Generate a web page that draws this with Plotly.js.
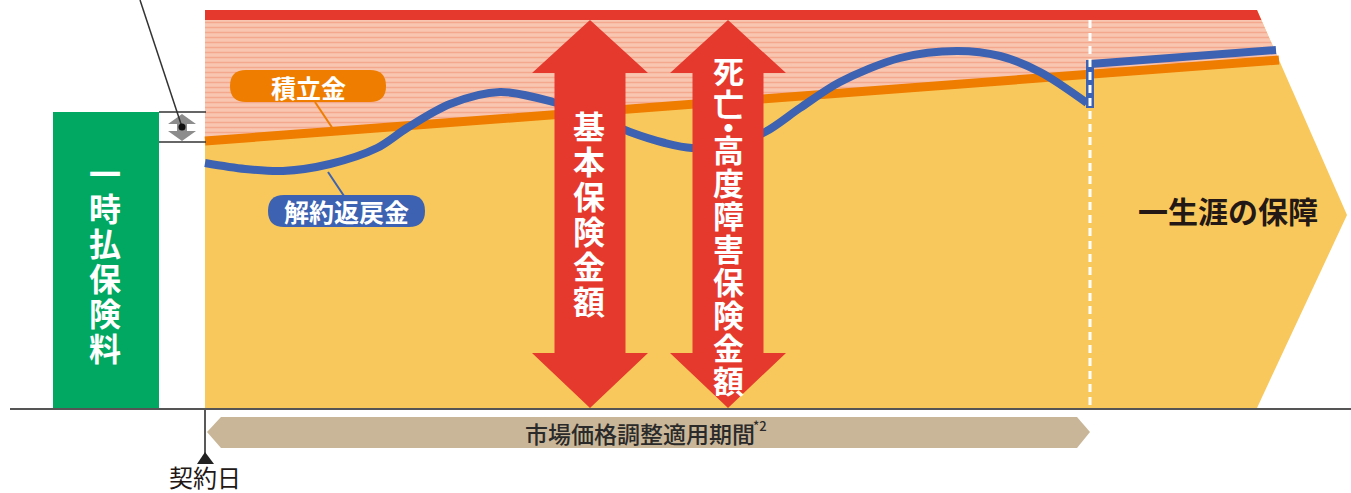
<!DOCTYPE html>
<html>
<head>
<meta charset="utf-8">
<script src="https://cdn.plot.ly/plotly-3.0.1.min.js"></script>
<style>html,body{margin:0;padding:0;background:#fff;}#chart{width:1351px;height:493px;}</style>
</head>
<body>
<div id="chart"></div>
<script>
// ---- data (diagram units: x = time axis, y = amount, drawn top-down) ----
const surrenderX = [205,245,283,330,377,407,450,500,553,590,630,665,692,730,765,800,840,900,957,1000,1040,1087];
const surrenderY = [163,169,171,164,148,128,104,92,102,115,132,143,148,145,132,108,82,58,51,56,72,103];
const jumpX = [1090,1090];
const jumpY = [60,108];
const afterX = [1090,1276];
const afterY = [64,50];
const reserveX = [205,1279];
const reserveY = [141,60];
const frameX = [205,1257,1347,1257,205];   // lifelong coverage arrow
const frameY = [10,10,215,408,408];
const baseY = 408;
const coverTop = 20;
const arrowCenters = [590,728];
const arrowLabels = ['基本保険金額','死亡・高度障害保険金額'];
const premiumLabel = '一時払保険料';
const reserveLabel = '積立金';
const surrenderLabel = '解約返戻金';
const lifeLabel = '一生涯の保障';
const periodLabel = '市場価格調整適用期間';
const periodNote = '*2';
const contractLabel = '契約日';
const periodStart = 207, periodEnd = 1090;

const CJK = '"Noto Sans CJK JP", "Noto Sans", sans-serif';
const C = {yellow:'#f9c85c', pinkBg:'#f9c6b1', pinkFg:'#f4a98f', red:'#e5392e', orange:'#ee7d00',
           blue:'#3c62b1', green:'#00a862', tan:'#c9b698', gray:'#8c8c8c'};

function poly(x, y, color, extra) {
  return Object.assign({type:'scatter', mode:'lines', x:x, y:y, fill:'toself', fillcolor:color,
    line:{width:0, color:color}, hoverinfo:'skip', showlegend:false}, extra||{});
}
function line(x, y, color, w, extra) {
  return Object.assign({type:'scatter', mode:'lines', x:x, y:y, line:{color:color, width:w},
    hoverinfo:'skip', showlegend:false}, extra||{});
}
function arrowPoly(cx) {
  const hh = 58, sh = 35.5, t = coverTop, hb = 73, bb = 353, b = baseY;
  return {x:[cx, cx+hh, cx+sh, cx+sh, cx+hh, cx, cx-hh, cx-sh, cx-sh, cx-hh, cx],
          y:[t, hb, hb, bb, bb, b, bb, bb, hb, hb, t]};
}
function edgeX(y) { return frameX[1] + (frameX[2]-frameX[1])*(y-frameY[1])/(frameY[2]-frameY[1]); }

const traces = [];
traces.push(poly(frameX, frameY, C.yellow));
const ey = reserveY[1];
traces.push(poly([reserveX[0], edgeX(coverTop), edgeX(ey), reserveX[0]],
                 [coverTop, coverTop, ey, reserveY[0]], C.pinkBg,
                 {fillpattern:{shape:'-', bgcolor:C.pinkBg, fgcolor:C.pinkFg, size:5, solidity:0.3}}));
traces.push(poly([frameX[0], frameX[1], edgeX(coverTop), frameX[0]], [frameY[0], frameY[1], coverTop, coverTop], C.red));
traces.push(line(reserveX, reserveY, C.orange, 9));
traces.push(line(surrenderX, surrenderY, C.blue, 8, {line:{color:C.blue, width:8, shape:'spline', smoothing:0.9}}));
traces.push(line(jumpX, jumpY, C.blue, 8));
traces.push(line(afterX, afterY, C.blue, 8));
traces.push(line([periodEnd, periodEnd], [coverTop, baseY], '#ffffff', 3, {line:{color:'#ffffff', width:3, dash:'8px,5px'}}));
arrowCenters.forEach(cx => { const a = arrowPoly(cx); traces.push(poly(a.x, a.y, C.red)); });
traces.push(poly([53,159,159,53,53], [112,112,baseY,baseY,112], C.green));
traces.push(poly([182,196,187,187,196,182,168,177,177,168,182], [114,124,124,131,131,141,131,131,124,124,114], C.gray));
traces.push(line([140,182], [0,127], '#333333', 1.5));
traces.push({type:'scatter', mode:'markers', x:[182], y:[127], marker:{color:'#111', size:7},
             hoverinfo:'skip', showlegend:false});
traces.push(poly([periodStart, periodStart+14, periodEnd-13, periodEnd, periodEnd-13, periodStart+14, periodStart],
                 [432, 417, 417, 432, 448, 448, 432], C.tan));
traces.push(line([205,205], [410,455], '#222', 1.5));
traces.push(poly([197,205,214,197], [464,452,464,464], '#222'));

function pill(x0, x1, y0, y1, color) {
  const r = (y1-y0)/2, ym = (y0+y1)/2;
  const p = `M ${x0+r},${y0} L ${x1-r},${y0} Q ${x1},${y0} ${x1},${ym} Q ${x1},${y1} ${x1-r},${y1} ` +
            `L ${x0+r},${y1} Q ${x0},${y1} ${x0},${ym} Q ${x0},${y0} ${x0+r},${y0} Z`;
  return {type:'path', xref:'x', yref:'y', path:p, fillcolor:color, line:{width:0}, layer:'above'};
}

const shapes = [
  {type:'line', xref:'x', yref:'y', x0:10, x1:1351, y0:409, y1:409, line:{color:'#555', width:2}, layer:'above'},
  {type:'line', xref:'x', yref:'y', x0:159, x1:206, y0:112, y1:112, line:{color:'#333', width:1.5}},
  {type:'line', xref:'x', yref:'y', x0:159, x1:206, y0:142, y1:142, line:{color:'#333', width:1.5}},
  {type:'line', xref:'x', yref:'y', x0:315, x1:333, y0:102, y1:129, line:{color:C.orange, width:2}, layer:'above'},
  {type:'line', xref:'x', yref:'y', x0:328, x1:344, y0:172, y1:196, line:{color:C.blue, width:2}, layer:'above'},
  pill(230, 386, 70, 102, C.orange),
  pill(268, 425, 195, 227, C.blue)
];

const annotations = [];
function ann(text, x, y, size, color, weight, extra) {
  annotations.push(Object.assign({text:text, x:x, y:y, xref:'x', yref:'y', showarrow:false,
    xanchor:'center', yanchor:'middle', font:{family:CJK, size:size, color:color, weight:weight}}, extra||{}));
  return annotations.length - 1;
}
// vertical labels: one stacked annotation each, line pitch tightened after drawing
const verticals = [];
function vertical(str, x, firstY, step, size, dotStep) {
  const chars = Array.from(str);
  const offsets = [0];
  for (let i = 1; i < chars.length; i++)
    offsets.push(offsets[i-1] + ((chars[i] === '・' || chars[i-1] === '・') ? dotStep : step));
  const lastY = firstY + offsets[offsets.length-1];
  const idx = ann(chars.join('<br>'), x, (firstY+lastY)/2, size, '#ffffff', 700);
  verticals.push({idx:idx, offsets:offsets, center:(firstY+lastY)/2});
}
vertical(premiumLabel, 105, 172, 35, 32, 35);
vertical(arrowLabels[0], arrowCenters[0]-1, 125, 35, 32, 35);
vertical(arrowLabels[1], arrowCenters[1], 69, 33, 31, 23);
ann(reserveLabel, 308, 87, 25, '#ffffff', 700);
ann(surrenderLabel, 346, 211, 25, '#ffffff', 700);
ann(lifeLabel, 1228, 210, 30, '#231815', 700);
ann(periodLabel, 640, 433, 23, '#2a2a2a', 500);
ann(periodNote, 751, 425, 13, '#2a2a2a', 500, {xanchor:'left'});
ann(contractLabel, 205, 476, 24, '#231815', 400);

const layout = {
  width:1351, height:493, margin:{l:0, r:0, t:0, b:0},
  paper_bgcolor:'#ffffff', plot_bgcolor:'#ffffff',
  xaxis:{range:[0,1351], visible:false, fixedrange:true},
  yaxis:{range:[493,0], visible:false, fixedrange:true},
  shapes:shapes, annotations:annotations, showlegend:false
};
Plotly.newPlot('chart', traces, layout, {staticPlot:true, displayModeBar:false}).then(function(gd){
  const svg = gd.querySelector('.main-svg');
  const svgTop = svg.getBoundingClientRect().top;
  verticals.forEach(v => {
    const g = gd.querySelector('.annotation[data-index="' + v.idx + '"]');
    if (!g) return;
    const text = g.querySelector('text.annotation-text');
    if (!text) return;
    const lines = text.querySelectorAll('tspan.line');
    lines.forEach((t, i) => { t.setAttribute('dy', v.offsets[i] + 'px'); });
    const r = text.getBoundingClientRect();
    const cy = (r.top + r.bottom)/2 - svgTop;
    const shift = v.center - cy;
    const tr = text.getAttribute('transform') || '';
    text.setAttribute('transform', tr + ' translate(0,' + shift.toFixed(1) + ')');
  });
});
</script>
</body>
</html>
